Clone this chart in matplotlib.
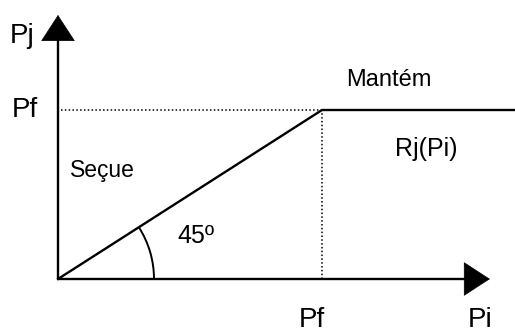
import matplotlib
matplotlib.use("Agg")
import matplotlib.pyplot as plt
from matplotlib.patches import Arc

plt.rcParams['font.family'] = ['Liberation Sans', 'DejaVu Sans']

# diagram values (Pf = 1 on both axes)
pf = 1.0
resp_x = [0.0, pf, 1.75]
resp_y = [0.0, pf, pf]
x_tip = 1.636
y_tip = 1.562

fig = plt.figure(figsize=(5.15, 3.33), dpi=100)
ax = fig.add_axes([0, 0, 1, 1])
ax.set_xlim(-58 / 264, (515 - 58) / 264)
ax.set_ylim(-(333 - 279) / 169, 279 / 169)
ax.axis('off')

# axes with arrows
ax.plot([0, x_tip - 0.05], [0, 0], color='k', lw=1.7, solid_capstyle='butt')
ax.plot([0, 0], [0, y_tip - 0.08], color='k', lw=1.7, solid_capstyle='butt')
head = '-|>,head_length=1.0,head_width=0.65'
ax.annotate('', xy=(x_tip, 0), xytext=(x_tip - 0.1, 0),
            arrowprops=dict(arrowstyle=head, mutation_scale=18, color='k',
                            lw=0.5, shrinkA=0, shrinkB=0))
ax.annotate('', xy=(0, y_tip), xytext=(0, y_tip - 0.15),
            arrowprops=dict(arrowstyle=head, mutation_scale=18, color='k',
                            lw=0.5, shrinkA=0, shrinkB=0))

# reaction curve
ax.plot(resp_x, resp_y, color='k', lw=1.7)

# dotted guides
ax.plot([0.01, pf], [pf, pf], color='k', lw=1.1, linestyle=(0, (1, 1.5)))
ax.plot([pf, pf], [0, pf], color='k', lw=1.1, linestyle=(0, (1, 1.5)))

# angle arc
r = 96
ax.add_patch(Arc((0, 0), 2 * r / 264, 2 * r / 169, theta1=0, theta2=45,
                 color='k', lw=1.4))

ax.text(-0.136, 1.396, 'Pj', fontsize=20, ha='center', va='baseline')
ax.text(-0.127, 0.959, 'Pf', fontsize=20, ha='center', va='baseline')
ax.text(0.96, -0.285, 'Pf', fontsize=20, ha='center', va='baseline')
ax.text(1.6, -0.285, 'Pi', fontsize=20, ha='center', va='baseline')
ax.text(1.254, 1.142, 'Mantém', fontsize=17, ha='center', va='baseline')
ax.text(1.394, 0.728, 'Rj(Pi)', fontsize=18, ha='center', va='baseline')
ax.text(0.17, 0.604, 'Seçue', fontsize=16.5, ha='center', va='baseline')
ax.text(0.523, 0.213, '45º', fontsize=18, ha='center', va='baseline')

fig.savefig('out.png', dpi=100)
